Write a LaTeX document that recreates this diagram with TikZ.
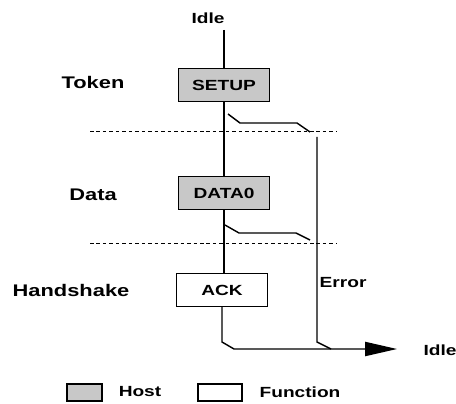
\documentclass[tikz,border=0pt]{standalone}
\usepackage{fontspec}
\setmainfont{Liberation Sans}[FakeStretch=1.3]
\usetikzlibrary{arrows.meta}

\newlength{\du}
\setlength{\du}{0.85pt}
\definecolor{hostgray}{RGB}{200,200,200}
\tikzset{
  pktbox/.style={draw, minimum width=91\du, minimum height=33\du, inner sep=0pt,
    font=\bfseries\fontsize{12.5}{14}\selectfont},
  keybox/.style={draw, line width=1pt, minimum height=17\du, inner sep=0pt},
  phase/.style={inner sep=0pt, font=\bfseries\fontsize{14.3}{16}\selectfont},
  lbl/.style={inner sep=0pt, font=\bfseries\fontsize{12.5}{14}\selectfont},
  sepline/.style={line width=0.8pt, dash pattern=on 3pt off 2.5pt},
}

\begin{document}
\begin{tikzpicture}[line width=1.2pt]
\pgftransformxscale{1.000000}
\pgftransformyscale{-1.000000}
\useasboundingbox (0\du,0\du) rectangle (456\du,403\du);
% phase names
\node[phase] (token) at (93\du,82\du){Token};
\node[phase] (data) at (93\du,195\du){Data};
\node[phase] (handshake) at (71\du,290\du){Handshake};
% packets
\node[pktbox, fill=hostgray] (setup) at (224\du,85\du){SETUP};
\node[pktbox, fill=hostgray] (data0) at (224\du,193\du){DATA0};
\node[pktbox, fill=white] (ack) at (222\du,290\du){ACK};
\node[lbl] (idletop) at (208\du,18\du){Idle};
\node[lbl] (idleend) at (440\du,350\du){Idle};
\node[lbl, anchor=west] (error) at (319\du,283\du){Error};
% separators
\coordinate (sepal) at (90\du,131\du);
\coordinate (separ) at (337\du,131\du);
\coordinate (sepbl) at (90\du,243\du);
\coordinate (sepbr) at (337\du,243\du);
\draw[sepline] (sepal) -- (separ);
\draw[sepline] (sepbl) -- (sepbr);
% main line
\coordinate (start) at (224\du,30\du);
\draw (start) -- (setup.north);
\draw (setup.south) -- (data0.north);
\draw (data0.south) -- (data0.south |- ack.north);
% switch after SETUP
\coordinate (swa1) at (228\du,114\du);
\coordinate (swa2) at (240\du,123\du);
\coordinate (swa3) at (297\du,123\du);
\coordinate (swa4) at (310\du,132\du);
\draw (swa1) -- (swa2) -- (swa3) -- (swa4);
% switch after DATA0
\coordinate (swb1) at (225\du,225\du);
\coordinate (swb2) at (239\du,233\du);
\coordinate (swb3) at (296\du,233\du);
\coordinate (swb4) at (310\du,240\du);
\draw (swb1) -- (swb2) -- (swb3) -- (swb4);
% error path
\coordinate (errtop) at (317\du,137\du);
\coordinate (errdn) at (317\du,342\du);
\coordinate (errjoin) at (331\du,349\du);
\draw (errtop) -- (errdn) -- (errjoin);
% to idle
\coordinate (ackdn) at (222\du,342\du);
\coordinate (ackkink) at (234\du,349\du);
\coordinate (idletip) at (397\du,349\du);
\draw[-{Triangle[length=27pt,width=12pt]}] (ack.south) -- (ackdn) -- (ackkink) -- (idletip);
% legend
\node[keybox, fill=hostgray, minimum width=35\du] (hostkey) at (84.5\du,392.5\du){};
\node[lbl] (hostlbl) at (140\du,392\du){Host};
\node[keybox, fill=white, minimum width=44\du] (funckey) at (220\du,392.5\du){};
\node[lbl] (funclbl) at (300\du,392\du){Function};
\end{tikzpicture}
\end{document}
